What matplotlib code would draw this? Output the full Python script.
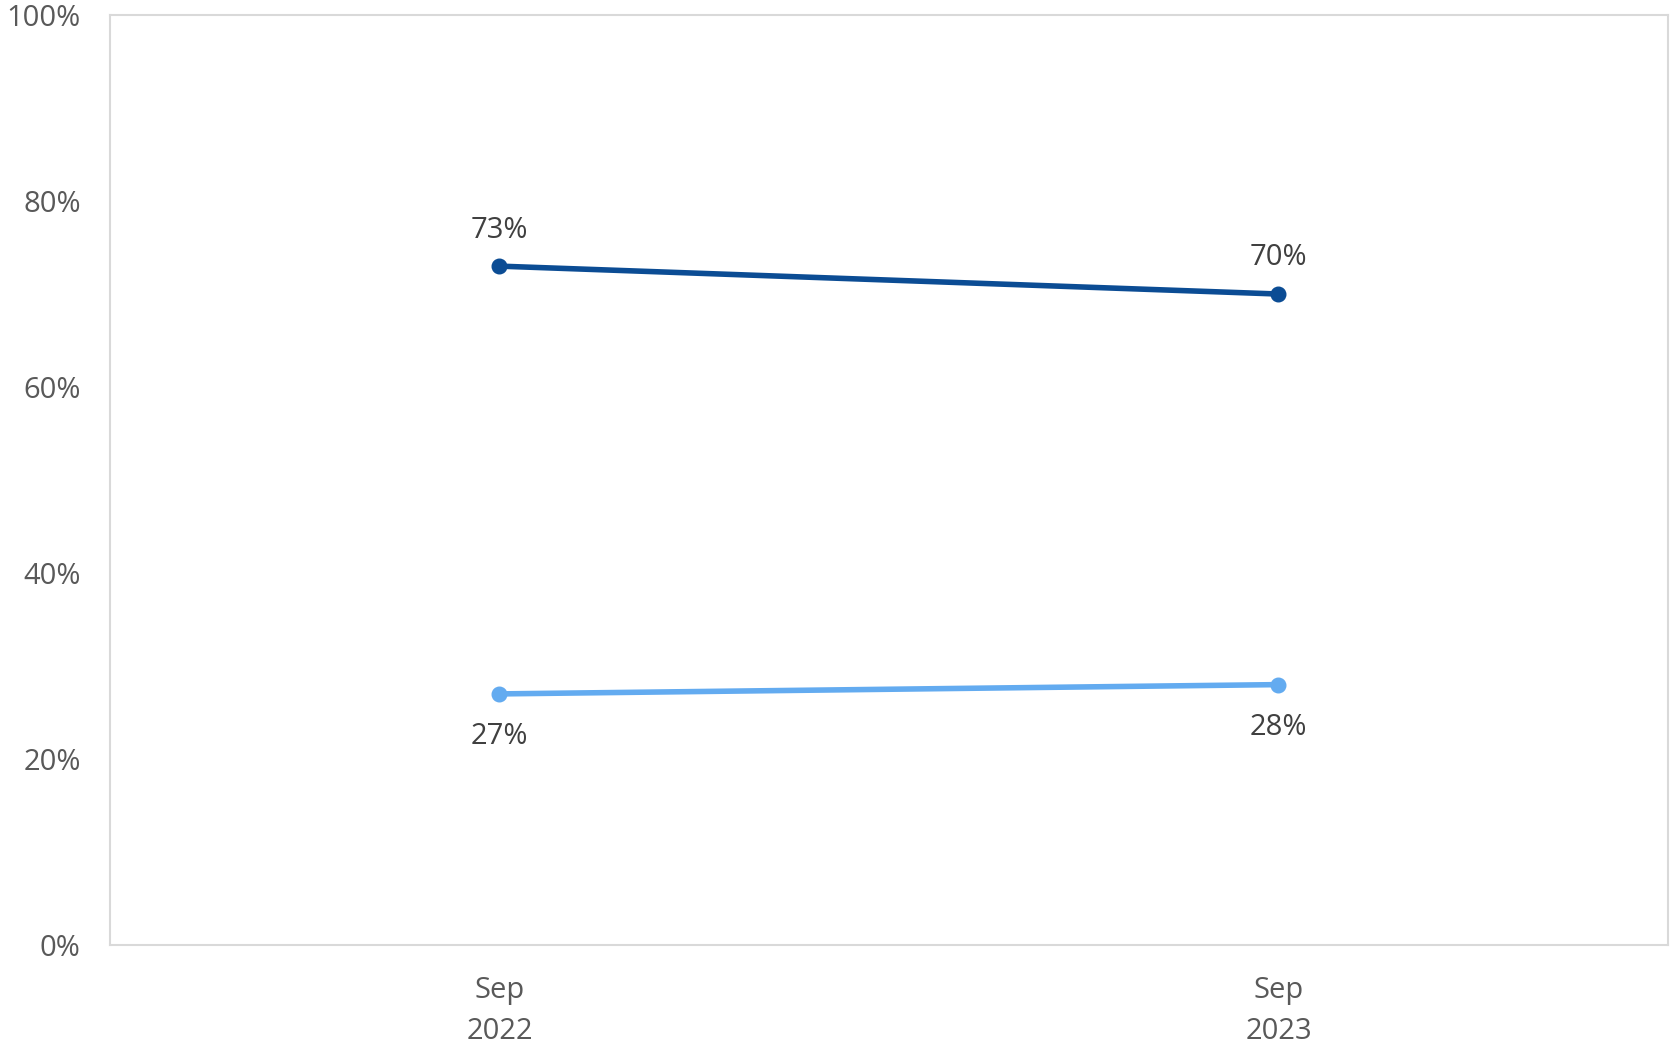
import matplotlib
matplotlib.use("Agg")
import matplotlib.pyplot as plt

categories = ["Sep\n2022", "Sep\n2023"]
series_dark = [73, 70]
series_light = [27, 28]
y_ticks = [0, 20, 40, 60, 80, 100]
y_tick_labels = ["0%", "20%", "40%", "60%", "80%", "100%"]

plt.rcParams['font.family'] = ['Open Sans', 'DejaVu Sans']

fig = plt.figure(figsize=(16.77, 10.45), dpi=100)
ax = fig.add_axes([0.0656, 0.0957, 0.929, 0.8899])

x = list(range(len(categories)))
dark = "#0B4C94"
light = "#63ABF0"
ax.plot(x, series_dark, color=dark, lw=4, marker="o", ms=10.5, solid_capstyle="round")
ax.plot(x, series_light, color=light, lw=4, marker="o", ms=10.5, solid_capstyle="round")

fs = 21
for xi, v in zip(x, series_dark):
    ax.annotate(f"{v}%", (xi, v), xytext=(0, 26), textcoords="offset points",
                ha="center", va="center", fontsize=fs, color="#404040")
for xi, v in zip(x, series_light):
    ax.annotate(f"{v}%", (xi, v), xytext=(0, -31), textcoords="offset points",
                ha="center", va="center", fontsize=fs, color="#404040")

ax.set_xlim(-0.5, 1.5)
ax.set_ylim(0, 100)
ax.set_xticks(x)
ax.set_xticklabels(categories, fontsize=fs, color="#595959", linespacing=1.55)
ax.set_yticks(y_ticks)
ax.set_yticklabels(y_tick_labels, fontsize=fs, color="#595959")
ax.tick_params(length=0)
ax.tick_params(axis="y", pad=21)
ax.tick_params(axis="x", pad=22)
for s in ax.spines.values():
    s.set_color("#D9D9D9")
    s.set_linewidth(1.5)

fig.savefig("out.png", dpi=100)
